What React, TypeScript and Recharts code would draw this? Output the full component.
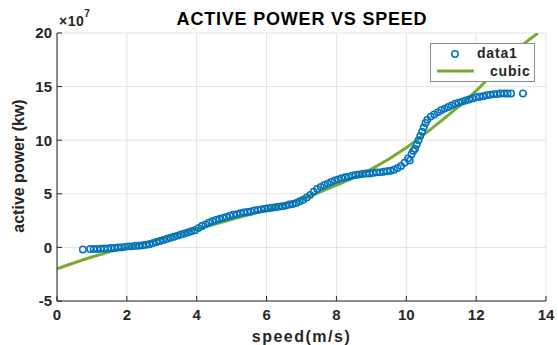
import React from 'react';
import { ComposedChart, Scatter, Line, XAxis, YAxis, CartesianGrid } from 'recharts';

// wind turbine measurements, active power in units of 1e7
const speedX = [
  0.74, 0.95, 1.05, 1.15, 1.25, 1.35, 1.45, 1.55, 1.65, 1.75, 1.85, 1.95, 2.05, 2.15, 2.25, 2.35,
  2.45, 2.55, 2.65, 2.75, 2.85, 2.95, 3.05, 3.15, 3.25, 3.35, 3.45, 3.55, 3.65, 3.75, 3.85, 3.95,
  4.05, 4.15, 4.25, 4.35, 4.45, 4.55, 4.65, 4.75, 4.85, 4.95, 5.05, 5.15, 5.25, 5.35, 5.45, 5.55,
  5.65, 5.75, 5.85, 5.95, 6.05, 6.15, 6.25, 6.35, 6.45, 6.55, 6.65, 6.75, 6.85, 6.95, 7.05, 7.15,
  7.25, 7.35, 7.45, 7.55, 7.65, 7.75, 7.85, 7.95, 8.05, 8.15, 8.25, 8.35, 8.45, 8.55, 8.65, 8.75,
  8.85, 8.95, 9.05, 9.15, 9.25, 9.35, 9.45, 9.55, 9.65, 9.75, 9.85, 9.95, 10.05, 10.1, 10.15, 10.2,
  10.25, 10.3, 10.35, 10.4, 10.45, 10.5, 10.55, 10.6, 10.7, 10.8, 10.9, 11.0, 11.1, 11.2, 11.3, 11.4,
  11.5, 11.6, 11.7, 11.8, 11.9, 12.0, 12.1, 12.2, 12.3, 12.4, 12.5, 12.6, 12.7, 12.8, 12.9, 13.0, 13.34,
];
const powerY = [
  -0.2, -0.15, -0.15, -0.15, -0.12, -0.1, -0.1, -0.05, -0.05, 0.0, 0.0, 0.05, 0.1, 0.1, 0.15, 0.15,
  0.2, 0.25, 0.3, 0.4, 0.5, 0.6, 0.7, 0.8, 0.9, 1.0, 1.1, 1.2, 1.3, 1.4, 1.5, 1.6,
  1.8, 2.0, 2.15, 2.3, 2.45, 2.55, 2.65, 2.75, 2.85, 2.95, 3.05, 3.1, 3.2, 3.25, 3.3, 3.35,
  3.45, 3.5, 3.55, 3.6, 3.65, 3.7, 3.75, 3.8, 3.85, 3.9, 4.0, 4.05, 4.15, 4.3, 4.45, 4.65,
  4.9, 5.2, 5.45, 5.65, 5.8, 5.95, 6.1, 6.25, 6.35, 6.45, 6.55, 6.6, 6.7, 6.75, 6.8, 6.85,
  6.9, 6.9, 6.95, 7.0, 7.0, 7.05, 7.1, 7.15, 7.25, 7.4, 7.6, 7.9, 8.3, 8.1, 8.7, 9.0,
  9.2, 9.6, 10.0, 10.4, 10.8, 11.2, 11.6, 11.9, 12.2, 12.4, 12.6, 12.8, 12.95, 13.1, 13.25, 13.4,
  13.5, 13.6, 13.7, 13.8, 13.9, 14.0, 14.05, 14.1, 14.2, 14.25, 14.3, 14.3, 14.35, 14.35, 14.35, 14.35, 14.35,
];

// cubic fit
const fitX = [0, 1, 2, 3, 4, 5, 6, 7, 8, 9, 10, 11, 12, 13, 13.77];
const fitY = [-2.0, -0.9, 0.0, 0.8, 1.7, 2.6, 3.5, 4.5, 5.8, 7.3, 9.3, 11.8, 14.6, 18.0, 20.0];

const xTicks = [0, 2, 4, 6, 8, 10, 12, 14];
const yTicks = [-5, 0, 5, 10, 15, 20];

const scatterData = speedX.map((x, i) => ({ x, y: powerY[i] }));
const fitData = fitX.map((x, i) => ({ x, y: fitY[i] }));

const BLUE = '#0072BD';
const GREEN = '#77AC30';
const FONT = '"Liberation Sans", Arial, Helvetica, sans-serif';

const tickStyle = { fill: '#262626', fontSize: 15, fontWeight: 700, fontFamily: FONT };

const OpenCircle = (props: any) => (
  <circle cx={props.cx} cy={props.cy} r={3.2} fill="none" stroke={BLUE} strokeWidth={1.5} />
);

const LegendBox = () => (
  <div
    style={{
      position: 'absolute',
      left: 430,
      top: 43,
      border: '1px solid #8c8c8c',
      background: '#fff',
      width: 105,
      height: 39,
      fontFamily: FONT,
      fontWeight: 700,
      fontSize: 14,
      letterSpacing: 0.8,
      color: '#262626',
      boxSizing: 'border-box',
    }}
  >
    <svg width={46} height={37} style={{ position: 'absolute', left: 0, top: 0 }}>
      <circle cx={24} cy={10} r={3.2} fill="none" stroke={BLUE} strokeWidth={1.5} />
      <line x1={6} x2={43} y1={27} y2={27} stroke={GREEN} strokeWidth={3} />
    </svg>
    <div style={{ position: 'absolute', left: 46, top: 1 }}>data1</div>
    <div style={{ position: 'absolute', left: 59, top: 19 }}>cubic</div>
  </div>
);

export default function App() {
  return (
    <div style={{ position: 'absolute', left: 0, top: 0, width: 558, height: 345, background: '#fff' }}>
      <ComposedChart width={558} height={345} margin={{ top: 33, right: 12, bottom: 0, left: 0 }}>
        <CartesianGrid stroke="#e3e3e3" strokeWidth={1} />
        <XAxis
          type="number"
          dataKey="x"
          domain={[0, 14]}
          ticks={xTicks}
          allowDataOverflow
          height={44}
          stroke="#262626"
          tickSize={-5}
          tickMargin={13}
          tick={tickStyle}
          label={{
            value: 'speed(m/s)',
            position: 'insideBottom',
            offset: 3,
            style: { fill: '#262626', fontSize: 16, fontWeight: 700, fontFamily: FONT, letterSpacing: 1.5 },
          }}
        />
        <YAxis
          type="number"
          dataKey="y"
          domain={[-5, 20]}
          ticks={yTicks}
          allowDataOverflow
          width={57}
          stroke="#262626"
          tickSize={-5}
          tickMargin={10}
          tick={tickStyle}
          label={{
            content: (p: any) => {
              const vb = p.viewBox || { x: 0, y: 33, height: 268 };
              const cx = vb.x + 18;
              const cy = vb.y + vb.height / 2 - 1;
              return (
                <text
                  x={cx}
                  y={cy}
                  transform={`rotate(-90 ${cx} ${cy})`}
                  textAnchor="middle"
                  dominantBaseline="central"
                  fill="#262626"
                  fontSize={16}
                  fontWeight={700}
                  fontFamily={FONT}
                >
                  active power (kw)
                </text>
              );
            },
          }}
        />
        <Scatter data={scatterData} dataKey="y" shape={OpenCircle} isAnimationActive={false} />
        <Line
          data={fitData}
          dataKey="y"
          type="monotone"
          stroke={GREEN}
          strokeWidth={3}
          dot={false}
          activeDot={false}
          isAnimationActive={false}
        />
      </ComposedChart>
      <div
        style={{
          position: 'absolute',
          top: 9,
          left: 0,
          width: 604,
          textAlign: 'center',
          fontFamily: FONT,
          fontWeight: 700,
          fontSize: 18,
          letterSpacing: 0.8,
          color: '#000',
        }}
      >
        ACTIVE POWER VS SPEED
      </div>
      <div
        style={{
          position: 'absolute',
          top: 13,
          left: 59,
          fontFamily: FONT,
          fontWeight: 700,
          fontSize: 14,
          letterSpacing: 0.5,
          color: '#262626',
        }}
      >
        ×10<sup style={{ fontSize: 10, verticalAlign: 'top', position: 'relative', top: -5 }}>7</sup>
      </div>
      <LegendBox />
    </div>
  );
}
